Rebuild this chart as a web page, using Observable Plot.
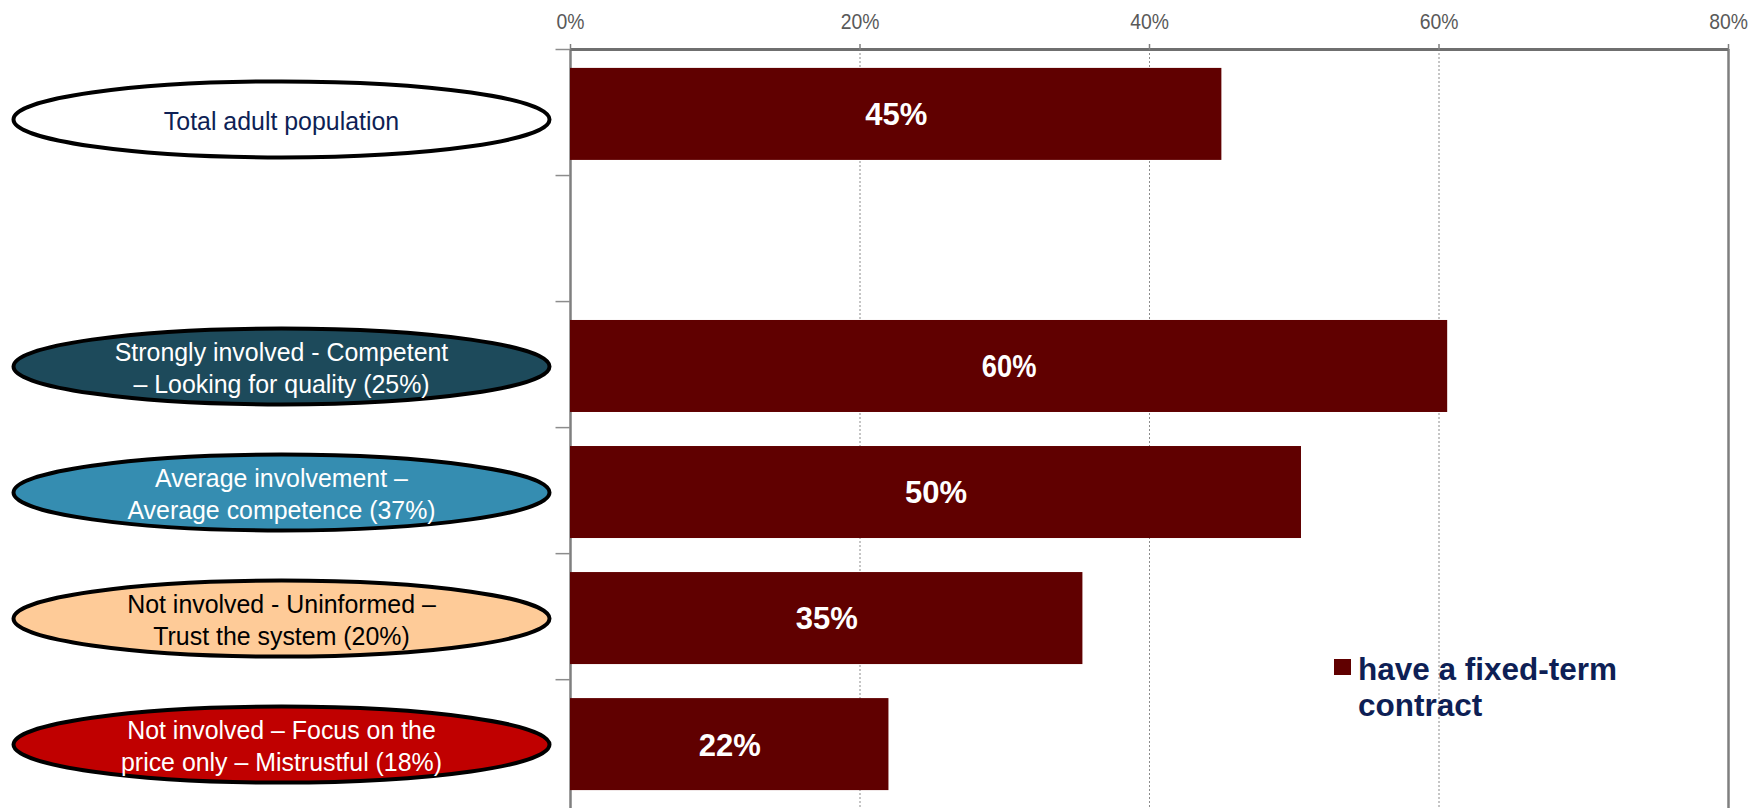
<!DOCTYPE html>
<html>
<head>
<meta charset="utf-8">
<script src="https://cdn.jsdelivr.net/npm/d3@7"></script>
<script src="https://cdn.jsdelivr.net/npm/@observablehq/plot@0.6"></script>
<style>
  html, body { margin: 0; padding: 0; background: #ffffff; }
  #wrap { position: relative; width: 1753px; height: 808px; overflow: hidden; }
  #legend { position: absolute; left: 1334px; top: 651px; font-family: "Liberation Sans", Arial, sans-serif;
            font-weight: bold; font-size: 31.5px; line-height: 36px; color: #0e1f55; }
  #legend .sw { position: absolute; left: 0; top: 8px; width: 17px; height: 16px; background: #600000; }
  #legend .tx { margin-left: 24px; }
</style>
</head>
<body>
<div id="wrap">
  <div id="legend"><span class="sw"></span><div class="tx">have a fixed-term<br>contract</div></div>
</div>
<script>
// ---- data ----
const categories = [
  "Total adult population",
  " ",
  "Strongly involved - Competent – Looking for quality (25%)",
  "Average involvement – Average competence (37%)",
  "Not involved - Uninformed – Trust the system (20%)",
  "Not involved – Focus on the price only – Mistrustful (18%)"
];
const barCategories = [categories[0], categories[2], categories[3], categories[4], categories[5]];
const values = [45.0, 60.6, 50.5, 35.4, 22.0];
const valueLabels = ["45%", "60%", "50%", "35%", "22%"];
const segmentLabels = [
  "Total adult population",
  "Strongly involved - Competent\n– Looking for quality (25%)",
  "Average involvement –\nAverage competence (37%)",
  "Not involved - Uninformed –\nTrust the system (20%)",
  "Not involved – Focus on the\nprice only – Mistrustful (18%)"
];
const ellipseFills = ["#ffffff", "#1d4a5b", "#358db1", "#fecb98", "#c00000"];
const ellipseTextColors = ["#0e1f55", "#ffffff", "#ffffff", "#000000", "#ffffff"];
const xTicks = [0, 20, 40, 60, 80];
const xTickLabels = ["0%", "20%", "40%", "60%", "80%"];
const dottedGrid = [20, 40, 60];

// ---- build tables ----
const bars = barCategories.map((c, i) => ({category: c, value: values[i], label: valueLabels[i]}));
const segs = barCategories.map((c, i) => ({category: c, label: segmentLabels[i], fill: ellipseFills[i], color: ellipseTextColors[i]}));
const segTop = segs.slice(0, 1), segRest = segs.slice(1);

const W = 1753, H = 808, mTop = 49, mLeft = 570, mRight = 25;
const yRange = [mTop, 809];
const pInner = 0.27, pOuter = 0.15;
const step = (yRange[1] - yRange[0]) / (categories.length - pInner + 2 * pOuter);
const bDy = -(step * (pOuter + (1 - pInner) / 2)); // band center -> upper category boundary

const ellipse = {
  draw(ctx) {
    const a = 268, b = 38, k = 0.5523;
    ctx.moveTo(a, 0);
    ctx.bezierCurveTo(a, k * b, k * a, b, 0, b);
    ctx.bezierCurveTo(-k * a, b, -a, k * b, -a, 0);
    ctx.bezierCurveTo(-a, -k * b, -k * a, -b, 0, -b);
    ctx.bezierCurveTo(k * a, -b, a, -k * b, a, 0);
    ctx.closePath();
  }
};

const sans = "'Liberation Sans', Arial, sans-serif";
const ellDx = -289;

function ellipseMarks(data, dy) {
  return [
    Plot.dot(data, {x: () => 0, y: "category", dx: ellDx, dy, symbol: ellipse, r: 5,
      fill: "fill", stroke: "#000000", strokeWidth: 4}),
    Plot.text(data, {x: () => 0, y: "category", dx: ellDx, dy, text: "label", fill: "color",
      fontSize: 26.5, lineHeight: 1.2, fontFamily: sans})
  ];
}

const chart = Plot.plot({
  width: W, height: H,
  marginTop: mTop, marginLeft: mLeft, marginRight: mRight, marginBottom: 0,
  style: {fontFamily: sans, background: "transparent", overflow: "visible"},
  x: {domain: [0, 80], axis: null},
  y: {domain: categories, range: yRange, round: false, paddingInner: pInner, paddingOuter: pOuter, axis: null},
  color: {type: "identity"},
  marks: [
    Plot.ruleX(dottedGrid, {stroke: "#8c8c8c", strokeWidth: 1, strokeDasharray: "2,2"}),
    Plot.ruleX([80], {stroke: "#7f7f7f", strokeWidth: 2.5}),
    Plot.ruleX([0], {stroke: "#7f7f7f", strokeWidth: 2.5}),
    Plot.ruleY(categories, {y: d => d, x1: -1, x2: 0, dy: bDy, stroke: "#8c8c8c", strokeWidth: 1.5}),
    Plot.ruleY([categories[0]], {y: d => d, x1: 0, x2: 80, dy: bDy, stroke: "#6f6f6f", strokeWidth: 3}),
    Plot.axisX(xTicks, {anchor: "top", tickSize: 6, tickFormat: () => "", stroke: "#7f7f7f", strokeWidth: 1.5, label: null}),
    Plot.text(xTicks, {x: d => d, frameAnchor: "top", dy: -mTop + 13, text: (d, i) => xTickLabels[i],
      fontSize: 22, fill: "#595959", fontFamily: sans}),
    Plot.barX(bars, {x: "value", y: "category", fill: "#600000"}),
    Plot.text(bars, {x: d => d.value / 2, y: "category", text: "label", dy: 1,
      fill: "#ffffff", fontWeight: "bold", fontSize: 31, fontFamily: sans}),
    ...ellipseMarks(segTop, 5),
    ...ellipseMarks(segRest, 0)
  ]
});
// narrow the label glyphs horizontally to mimic the condensed typeface of the original
const segSet = new Set(segmentLabels.map(s => s.replace(/\n/g, "")));
const tickSet = new Set(xTickLabels);
chart.querySelectorAll("text").forEach(t => {
  const content = t.textContent;
  let k = null;
  if (segSet.has(content)) k = 0.94;
  else if (tickSet.has(content)) k = 0.88;
  if (k == null) return;
  const tr = t.getAttribute("transform");
  if (tr && tr.includes("translate")) t.setAttribute("transform", tr + ` scale(${k},1)`);
});
document.getElementById("wrap").prepend(chart);
</script>
</body>
</html>
